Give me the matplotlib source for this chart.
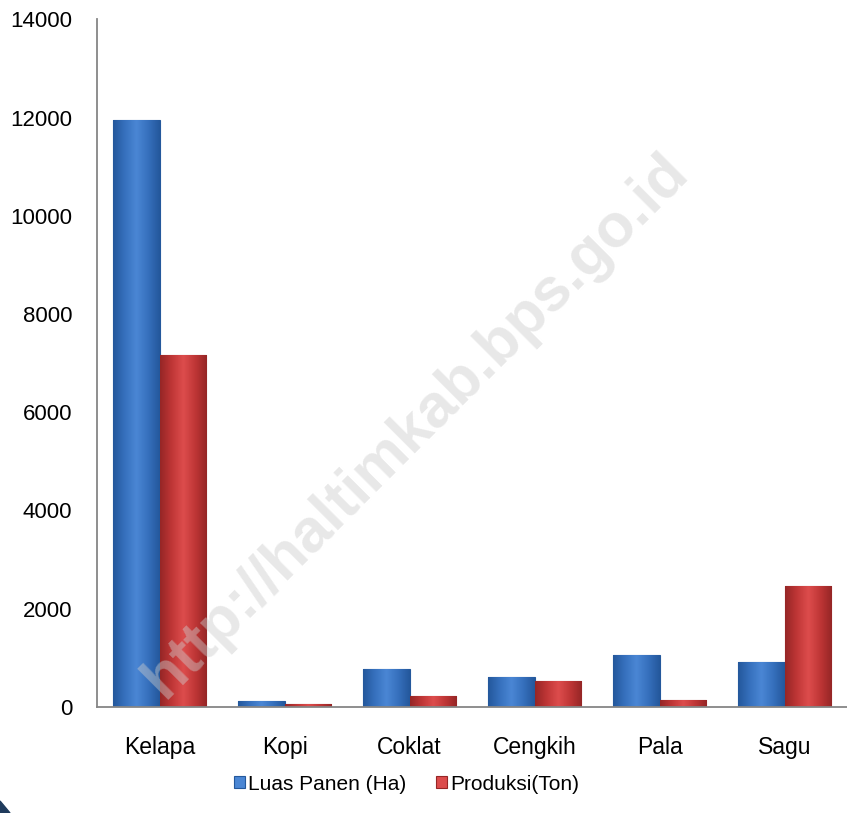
import numpy as np
import matplotlib
matplotlib.use("Agg")
import matplotlib.pyplot as plt
from matplotlib.colors import LinearSegmentedColormap
from matplotlib.patches import Polygon

# ==== Data ====
kategori = ["Kelapa", "Kopi", "Coklat", "Cengkih", "Pala", "Sagu"]
luas_panen = [11940, 130, 770, 620, 1060, 910]
produksi = [7170, 60, 220, 530, 135, 2455]
seri = ["Luas Panen (Ha)", "Produksi(Ton)"]
y_ticks = [0, 2000, 4000, 6000, 8000, 10000, 12000, 14000]

plt.rcParams['font.family'] = ['Liberation Sans', 'DejaVu Sans']

# ==== Figure ====
fig = plt.figure(figsize=(8.47, 8.13), dpi=100)
ax = fig.add_axes([97 / 847, 0.1304, 1 - 97 / 847, 0.8459])

x = np.arange(len(kategori))
w = 0.37
warna = {"blue": ("#24589c", "#4a86d4", "#3670bd"), "red": ("#962626", "#dc4c4c", "#bf3636")}

bar1 = ax.bar(x - w / 2, luas_panen, w, color=warna["blue"][1], edgecolor=warna["blue"][0], linewidth=0.8, label=seri[0], zorder=2)
bar2 = ax.bar(x + w / 2, produksi, w, color=warna["red"][1], edgecolor=warna["red"][0], linewidth=0.8, label=seri[1], zorder=2)

# gradasi ala excel (gelap - terang - gelap)
grad = np.concatenate([np.linspace(0, 1, 40), np.linspace(1, 0, 40)])[None, :]
for bars, key in [(bar1, "blue"), (bar2, "red")]:
    cmap = LinearSegmentedColormap.from_list(key, [warna[key][0], warna[key][2], warna[key][1]])
    for p in bars:
        x0, y0 = p.get_x(), p.get_y()
        im = ax.imshow(grad, extent=[x0, x0 + p.get_width(), y0, y0 + p.get_height()],
                       aspect="auto", cmap=cmap, zorder=2.5, interpolation="bilinear")
        im.set_clip_path(p)

ax.set_xlim(-0.5, len(kategori) - 0.5)
ax.set_ylim(0, 14000)
ax.set_yticks(y_ticks)
ax.set_yticklabels([str(t) for t in y_ticks], fontsize=16)
ax.set_xticks(x)
ax.set_xticklabels(kategori, fontsize=16.5)
ax.tick_params(axis="x", length=0, pad=21)
ax.tick_params(axis="y", length=0, pad=18)
for s in ["top", "right"]:
    ax.spines[s].set_visible(False)
ax.spines["left"].set_color("#868686")
ax.spines["bottom"].set_color("#868686")
ax.spines["left"].set_linewidth(1.3)
ax.spines["bottom"].set_linewidth(1.3)

fig.legend(handles=[bar1, bar2], labels=seri, loc="center", bbox_to_anchor=(0.48, 1 - 784 / 813),
           ncol=2, frameon=False, fontsize=15, handlelength=0.55, handleheight=0.55,
           handletextpad=0.15, columnspacing=1.4)

# ==== Watermark ====
fig.text(0.492, 0.476, "http://haltimkab.bps.go.id", rotation=45, fontsize=44, fontweight="bold",
         color="#cccccc", alpha=0.45, ha="center", va="center", zorder=10)

# sudut kiri bawah
fig.patches.append(Polygon([[0, 0], [10 / 847, 0], [0, 12 / 813]], closed=True,
                           transform=fig.transFigure, color="#1f3b5c"))

fig.savefig("out.png", dpi=100)
